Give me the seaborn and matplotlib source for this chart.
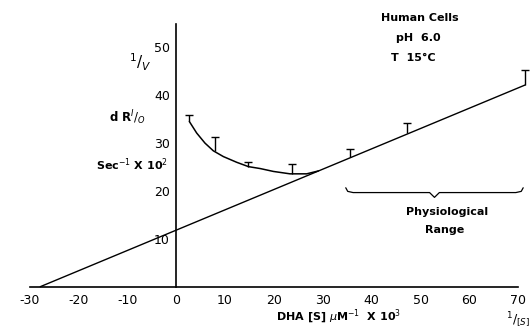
import numpy as np
import matplotlib
matplotlib.use("Agg")
import matplotlib.pyplot as plt
import seaborn as sns

# ---- data ----
point_x = [2.7, 7.9, 14.8, 23.7, 35.6, 47.2, 71.4]
point_y = [34.4, 28.2, 25.0, 23.5, 27.0, 32.0, 42.0]
err_up = [1.4, 2.9, 1.0, 2.1, 1.6, 2.0, 3.1]

curve_x = [2.7, 4.2, 5.9, 7.6, 9.65, 12.4, 14.8, 17.2, 19.9, 23.3, 26.7, 29.1]
curve_y = [34.4, 32.0, 29.9, 28.3, 27.1, 25.9, 25.0, 24.6, 24.0, 23.5, 23.5, 24.1]

fit_x = [-27.8, 71.4]
fit_y = [0.0, 42.0]

x_ticks = [-30, -20, -10, 0, 10, 20, 30, 40, 50, 60, 70]
y_ticks = [10, 20, 30, 40, 50]
physio_range = [34.7, 71.0]

sns.set_theme(style="white")
plt.rcParams["font.family"] = ["DejaVu Sans"]
plt.rcParams["axes.unicode_minus"] = False
plt.rcParams["mathtext.fontset"] = "dejavusans"

W, H = 532, 331
fig = plt.figure(figsize=(W / 100, H / 100), dpi=100)
fig.patch.set_facecolor("white")
ax = fig.add_axes([29.5 / W, 1 - 286.7 / H, (518.3 - 29.5) / W, (286.7 - 24) / H])
ax.set_facecolor("white")
ax.set_xlim(-30, 70)
ax.set_ylim(0, 54.7)

# regression line and curve
sns.lineplot(x=fit_x, y=fit_y, ax=ax, color="black", lw=1.0, sort=False)
sns.lineplot(x=curve_x, y=curve_y, ax=ax, color="black", lw=1.1, sort=False)
for ln in ax.lines:
    ln.set_clip_on(False)
    ln.set_solid_joinstyle("round")

eb = ax.errorbar(point_x, point_y, yerr=[np.zeros(len(err_up)), err_up], fmt="none",
                 ecolor="black", elinewidth=1.0, capsize=3, capthick=1.0, clip_on=False)
# only upper caps (one-sided error bars)
eb[1][0].set_visible(False)
for c in eb[1]:
    c.set_clip_on(False)
for c in eb[2]:
    c.set_clip_on(False)

# spines
for s in ["top", "right"]:
    ax.spines[s].set_visible(False)
ax.spines["left"].set_position(("data", 0))
for s in ["left", "bottom"]:
    ax.spines[s].set_color("black")
    ax.spines[s].set_linewidth(1.2)

ax.set_xticks(x_ticks)
ax.set_xticklabels([str(t) for t in x_ticks])
ax.set_yticks(y_ticks)
ax.set_yticklabels([str(t) for t in y_ticks])
ax.tick_params(axis="both", direction="out", length=3, width=1.0, color="black",
               labelsize=9, labelcolor="black", pad=1.5)
ax.tick_params(axis="x", pad=2.5)

# brace for physiological range
x0, x1 = physio_range
mid = (x0 + x1) / 2
ye, ym, yt = 20.6, 19.6, 18.6
bx = [x0, x0 + 0.4, x0 + 1.5, mid - 1.0, mid, mid + 1.0, x1 - 1.5, x1 - 0.4, x1]
by = [ye, ym + 0.25, ym, ym, yt, ym, ym, ym + 0.25, ye]
ax.plot(bx, by, color="black", lw=0.9, clip_on=False)


def ftext(px, py, s, size=8, ha="center", weight="semibold"):
    fig.text(px / W, 1 - py / H, s, ha=ha, va="center", fontsize=size,
             fontweight=weight, color="black")


ftext(420, 18, "Human Cells")
ftext(418, 38, "pH  6.0")
ftext(413, 58, "T  15°C")
ftext(447, 212, "Physiological")
ftext(445, 230, "Range")
ftext(140, 62, r"$^{1}/_{V}$", size=11)
ftext(127, 118, r"d R$^{I}/_{O}$", size=8.5)
ftext(132, 165, "Sec$^{-1}$ X 10$^{2}$", size=8)
ftext(339, 317, r"DHA [S] $\mu$M$^{-1}$  X 10$^{3}$", size=8)
ftext(518, 320, r"$^{1}/_{[S]}$", size=9)

fig.savefig("out.png", dpi=100, facecolor="white")
